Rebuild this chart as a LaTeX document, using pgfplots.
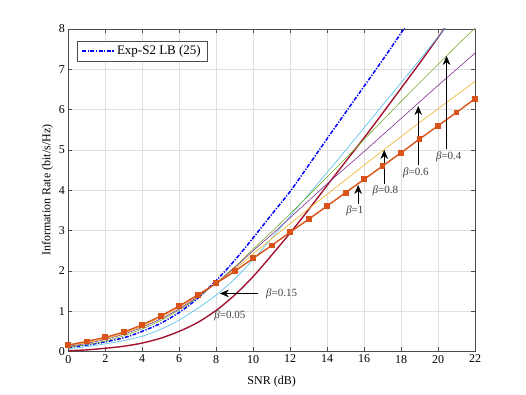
\documentclass[border=0pt]{standalone}
\usepackage{fontspec}
\setmainfont{Liberation Serif}
\usepackage{pgfplots}
\pgfplotsset{compat=1.18}
\usetikzlibrary{arrows.meta}

\definecolor{mBlue}{RGB}{0,0,255}
\definecolor{mOrange}{RGB}{217,83,25}
\definecolor{mYellow}{RGB}{237,177,32}
\definecolor{mPurple}{RGB}{126,47,142}
\definecolor{mGreen}{RGB}{119,172,48}
\definecolor{mCyan}{RGB}{77,190,238}
\definecolor{mRed}{RGB}{162,20,47}

\tikzset{betaarrow/.style={-{Stealth[length=9pt,width=7.5pt,inset=3pt]}, line width=0.5pt, black},
         betalabel/.style={font=\fontsize{11}{12}\selectfont, text=black!75, inner sep=0pt}}

\begin{document}
\begin{tikzpicture}
\begin{axis}[
    name=ax,
    scale only axis,
    width=406.7pt, height=322.5pt,
    xmin=0, xmax=22, ymin=0, ymax=8,
    xtick={0,2,...,22}, ytick={0,1,...,8},
    grid=major,
    major grid style={black!12, line width=0.4pt},
    axis line style={black!70, line width=0.5pt},
    tick style={black!70, line width=0.5pt},
    major tick length=4pt,
    tick align=inside,
    font=\fontsize{12}{14}\selectfont,
    /pgf/number format/assume math mode=true,
    xlabel={SNR (dB)},
    ylabel={Information Rate (bit/s/Hz)},
    xlabel style={yshift=-6pt},
    ylabel style={yshift=-1pt},
    legend style={at={(0.022,0.964)}, anchor=north west, draw=black!70, line width=0.5pt,
                  font=\fontsize{13}{15}\selectfont, inner xsep=4pt, inner ysep=3pt, legend cell align=left},
    legend image code/.code={\draw[#1] (0pt,0pt) -- (32pt,0pt);},
]
% Exp-S2 LB
\addplot[mBlue, line width=1.5pt, dash pattern=on 4pt off 1.5pt on 1.2pt off 1.5pt, smooth]
    coordinates {(0,0.10) (1,0.16) (2,0.24) (3,0.34) (4,0.50) (5,0.70) (6,0.97) (7,1.32) (8,1.76)
                 (9,2.26) (10,2.82) (11,3.40) (12,3.97) (13,4.62) (14,5.28) (15,5.93) (16,6.58)
                 (17,7.23) (18,7.90) (19,8.58)};
\addlegendentry{Exp-S2 LB (25)}
% beta = 0.05
\addplot[mRed, line width=1.4pt, smooth, forget plot]
    coordinates {(0,0.02) (1,0.04) (2,0.08) (3,0.13) (4,0.21) (5,0.33) (6,0.50) (7,0.72) (8,1.02)
                 (9,1.40) (10,1.86) (11,2.39) (12,2.94) (13,3.52) (14,4.12) (15,4.71) (16,5.30)
                 (17,5.91) (18,6.53) (19,7.15) (20,7.79) (21,8.44)};
% beta = 0.15
\addplot[mCyan, line width=0.6pt, smooth, forget plot]
    coordinates {(0,0.07) (1,0.12) (2,0.19) (3,0.27) (4,0.38) (5,0.55) (6,0.78) (7,1.07) (8,1.40)
                 (9,1.80) (10,2.28) (11,2.81) (12,3.36) (13,3.90) (14,4.44) (15,4.99) (16,5.55)
                 (17,6.11) (18,6.67) (19,7.23) (20,7.80) (21,8.37)};
% beta = 0.4
\addplot[mGreen, line width=0.6pt, smooth, forget plot]
    coordinates {(0,0.11) (1,0.17) (2,0.26) (3,0.39) (4,0.56) (5,0.77) (6,1.03) (7,1.34) (8,1.70)
                 (9,2.10) (10,2.54) (11,2.97) (12,3.42) (13,3.87) (14,4.33) (15,4.79) (16,5.26)
                 (17,5.73) (18,6.20) (19,6.66) (20,7.12) (21,7.58) (22,8.02)};
% beta = 0.6
\addplot[mPurple, line width=0.6pt, smooth, forget plot]
    coordinates {(0,0.13) (1,0.20) (2,0.30) (3,0.43) (4,0.60) (5,0.81) (6,1.06) (7,1.36) (8,1.70)
                 (9,2.08) (10,2.50) (11,2.90) (12,3.32) (13,3.74) (14,4.16) (15,4.56) (16,4.96)
                 (17,5.37) (18,5.78) (19,6.19) (20,6.60) (21,7.00) (22,7.40)};
% beta = 0.8
\addplot[mYellow, line width=0.6pt, smooth, forget plot]
    coordinates {(0,0.15) (1,0.22) (2,0.32) (3,0.45) (4,0.63) (5,0.85) (6,1.10) (7,1.39) (8,1.70)
                 (9,2.04) (10,2.42) (11,2.80) (12,3.17) (13,3.54) (14,3.90) (15,4.26) (16,4.62)
                 (17,4.98) (18,5.33) (19,5.68) (20,6.02) (21,6.36) (22,6.70)};
% beta = 1
\addplot[mOrange, line width=1.4pt, mark=square*, mark size=2.2pt, mark options={fill=mOrange}, forget plot]
    coordinates {(0,0.16) (1,0.25) (2,0.35) (3,0.48) (4,0.66) (5,0.88) (6,1.13) (7,1.40) (8,1.69)
                 (9,1.99) (10,2.31) (11,2.63) (12,2.96) (13,3.28) (14,3.61) (15,3.94) (16,4.27)
                 (17,4.60) (18,4.93) (19,5.27) (20,5.60) (21,5.93) (22,6.27)};

% annotations
\draw[betaarrow] (axis cs:15.68,3.66) -- (axis cs:15.68,4.13);
\node[betalabel] at (axis cs:15.5,3.48) {\textit{β}=1};
\draw[betaarrow] (axis cs:17.09,4.15) -- (axis cs:17.09,5.0);
\node[betalabel] at (axis cs:17.15,3.98) {\textit{β}=0.8};
\draw[betaarrow] (axis cs:18.93,4.62) -- (axis cs:18.93,6.09);
\node[betalabel] at (axis cs:18.8,4.44) {\textit{β}=0.6};
\draw[betaarrow] (axis cs:20.46,5.02) -- (axis cs:20.46,7.33);
\node[betalabel] at (axis cs:20.58,4.83) {\textit{β}=0.4};
\draw[betaarrow] (axis cs:10.28,1.44) -- (axis cs:8.2,1.44);
\node[betalabel, anchor=west] at (axis cs:10.69,1.44) {\textit{β}=0.15};
\node[betalabel] at (axis cs:8.74,0.88) {\textit{β}=0.05};
\end{axis}
\path (ax.south west) ++(-68.3pt,-43.5pt) rectangle ++(526pt,395pt);
\end{tikzpicture}
\end{document}
